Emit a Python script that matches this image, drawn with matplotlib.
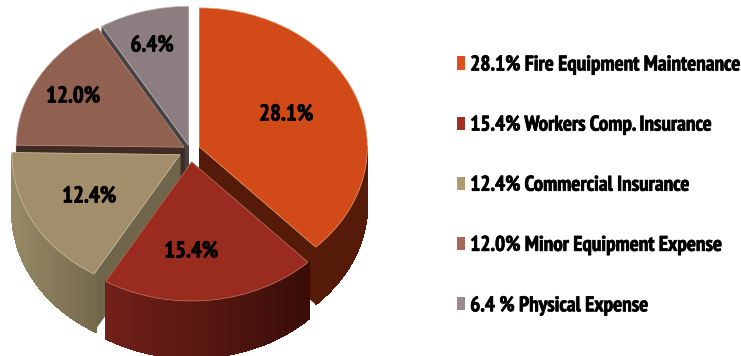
import matplotlib
matplotlib.use("Agg")
import matplotlib.pyplot as plt
import matplotlib.patheffects as pe
import numpy as np
from matplotlib.collections import PolyCollection
from matplotlib.colors import to_rgb
from matplotlib.patches import Patch, Polygon

# Budget shares, each drawn from its stated percentage
shares = [28.1, 15.4, 12.4, 12.0, 6.4]
legend_labels = ['28.1% Fire Equipment Maintenance', '15.4% Workers Comp. Insurance',
                 '12.4% Commercial Insurance', '12.0% Minor Equipment Expense',
                 '6.4 % Physical Expense']

# Colours for top, legend, cut faces and outer wall (left and right end)
top_colors = ['#D24A17', '#992B1F', '#A28E6A', '#906150', '#8C7E80']
key_colors = ['#DD4F1B', '#A33024', '#B09A70', '#A56857', '#9A8A8C']
edge_colors = ['#E8A078', '#C87A66', '#D0C4A4', '#B89484', '#C4BABC']
face_colors = ['#561B08', '#3A0D08', '#6F654A', '#3F2A24', '#474345']
wall_left = ['#561B08', '#72201A', '#968A66', '#3F2A24', '#474345']
wall_right = ['#561B08', '#3A0D08', '#75694C', '#3F2A24', '#474345']

explode = [0.06, 0.087, 0.068, 0.04, 0.035]
draw_order = [4, 3, 2, 0, 1]

W, H = 741, 356
CX, CY = 190, 150    # pie centre in pixels
RX, RY = 168, 139    # radius across and down in pixels
depth = 57 / RY

plt.rcParams['font.family'] = ['PT Sans Narrow', 'Liberation Sans']
heavy = [pe.withStroke(linewidth=0.5, foreground='black')]

fig = plt.figure(figsize=(W / 100, H / 100), dpi=100)
ax = fig.add_axes([0, 0, 1, 1])

wedges, _ = ax.pie(shares, explode=explode, colors=top_colors, startangle=90,
                   counterclock=False, radius=1,
                   wedgeprops={'linewidth': 0.5})

# pie() forces its own limits, so squash the circle into an ellipse afterwards
ax.set_aspect('auto')
ax.set_xlim(-CX / RX, (W - CX) / RX)
ax.set_ylim(-(H - CY) / RY, CY / RY)
ax.axis('off')


def rim(wedge, angle):
    a = np.deg2rad(angle)
    return (wedge.center[0] + wedge.r * np.cos(a),
            wedge.center[1] + wedge.r * np.sin(a))


def draw_sides(wedge, i, z):
    # Two cut faces first, then the curved wall, with the top above both
    cx, cy = wedge.center
    for angle in (wedge.theta1, wedge.theta2):
        x, y = rim(wedge, angle)
        ax.add_patch(Polygon([(cx, cy), (x, y), (x, y - depth), (cx, cy - depth)],
                             facecolor=face_colors[i], edgecolor=face_colors[i],
                             linewidth=0.4, zorder=z))

    # Only the lower half of the rim faces the viewer
    angles = np.arange(wedge.theta1, wedge.theta2 + 1, 1.0)
    angles = angles[(angles % 360) >= 180]
    if len(angles) < 2:
        return
    xs, ys = rim(wedge, angles)
    quads = [[(xs[k], ys[k]), (xs[k + 1], ys[k + 1]),
              (xs[k + 1], ys[k + 1] - depth), (xs[k], ys[k] - depth)]
             for k in range(len(angles) - 1)]
    span = max(xs.max() - xs.min(), 1e-6)
    left, right = np.array(to_rgb(wall_left[i])), np.array(to_rgb(wall_right[i]))
    shades = [left + (right - left) * (xs[k] - xs.min()) / span for k in range(len(quads))]
    # Aliased strips avoid seams between neighbours
    ax.add_collection(PolyCollection(quads, facecolors=shades, edgecolors=shades,
                                     linewidths=0.8, antialiaseds=False, zorder=z + 0.1))


for n, i in enumerate(draw_order):
    z = 2 + n
    draw_sides(wedges[i], i, z)
    wedges[i].set_zorder(z + 0.2)
    wedges[i].set_edgecolor(edge_colors[i])

# Value labels on the slice tops
label_px = [(286, 115), (191, 252), (89, 197), (73, 97), (152, 46)]
for value, (px, py) in zip(shares, label_px):
    fig.text(px / W, 1 - py / H, f'{value:.1f}%', ha='center', va='center',
             fontsize=16.5, fontweight='bold', color='black', path_effects=heavy)

# Key on the right
handles = [Patch(facecolor=c, edgecolor='none') for c in key_colors]
key = fig.legend(handles, legend_labels, loc='upper left',
                 bbox_to_anchor=(457 / W, 1 - 55.5 / H), frameon=False,
                 prop={'weight': 'bold', 'size': 15.3}, handlelength=0.38, handleheight=0.57,
                 handletextpad=0.24, labelspacing=1.935, borderpad=0, borderaxespad=0)
for label in key.get_texts():
    label.set_path_effects(heavy)

fig.savefig('out.png', dpi=100)
